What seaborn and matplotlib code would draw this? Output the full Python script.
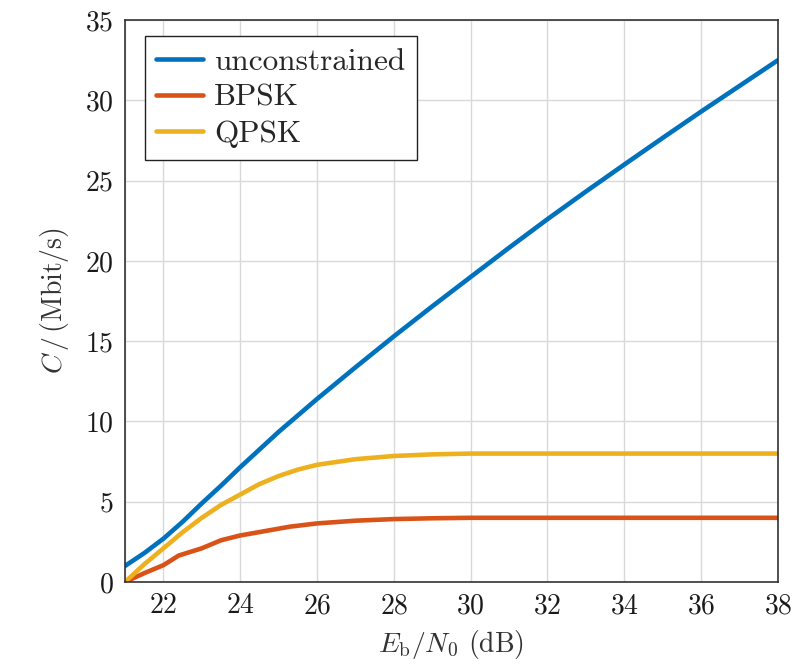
import matplotlib
matplotlib.use("Agg")
import matplotlib.pyplot as plt
import seaborn as sns
import pandas as pd

# Capacity versus Eb/N0 for an unconstrained input and two modulations
ebn0_unc = [21, 21.5, 22, 22.5, 23, 23.5, 24, 25, 26, 27, 28, 29, 30, 31, 32, 33, 34, 35, 36, 37, 38]
cap_unc = [1.0, 1.8, 2.7, 3.75, 4.9, 6.0, 7.15, 9.35, 11.4, 13.37, 15.3, 17.17, 19.0, 20.82, 22.6, 24.32, 26.0, 27.66, 29.3, 30.9, 32.5]

ebn0_bpsk = [21, 21.5, 22, 22.4, 23, 23.5, 24, 25.3, 26, 27, 28, 29, 30, 32, 34, 36, 38]
cap_bpsk = [0.0, 0.55, 1.05, 1.65, 2.1, 2.6, 2.9, 3.45, 3.65, 3.82, 3.92, 3.97, 4.0, 4.0, 4.0, 4.0, 4.0]

ebn0_qpsk = [21, 21.5, 22, 22.5, 23, 23.5, 24, 24.5, 25, 25.5, 26, 27, 28, 29, 30, 32, 34, 36, 38]
cap_qpsk = [0.0, 1.1, 2.1, 3.1, 4.0, 4.8, 5.45, 6.1, 6.6, 7.0, 7.3, 7.65, 7.85, 7.95, 8.0, 8.0, 8.0, 8.0, 8.0]

series_names = ["unconstrained", "BPSK", "QPSK"]
series_colors = ["#0072BD", "#D95319", "#EDB120"]

x_ticks = [22, 24, 26, 28, 30, 32, 34, 36, 38]
y_ticks = [0, 5, 10, 15, 20, 25, 30, 35]

frames = []
for name, xs, ys in zip(series_names,
                        [ebn0_unc, ebn0_bpsk, ebn0_qpsk],
                        [cap_unc, cap_bpsk, cap_qpsk]):
    frames.append(pd.DataFrame({"ebn0": xs, "cap": ys, "series": name}))
df = pd.concat(frames, ignore_index=True)

sns.set_theme(style="whitegrid")
plt.rcParams.update({
    "font.family": ["cmr10", "DejaVu Serif"],
    "mathtext.fontset": "cm",
    "axes.formatter.use_mathtext": True,
    "axes.unicode_minus": False,
    "grid.color": "#d9d9d9",
    "grid.linewidth": 1.0,
})

fig = plt.figure(figsize=(7.94, 6.68), dpi=100)
ax = fig.add_axes([0.1574, 0.1287, 0.8224, 0.8413])

sns.lineplot(data=df, x="ebn0", y="cap", hue="series", hue_order=series_names,
             palette=series_colors, linewidth=3.3, ax=ax, sort=False,
             estimator=None)

ax.set_xlim(21, 38)
ax.set_ylim(0, 35)
ax.set_xticks(x_ticks)
ax.set_yticks(y_ticks)
ax.set_xticks([21], minor=True)
ax.grid(True, which="both", color="#d9d9d9", linewidth=1.0)
ax.set_axisbelow(True)
ax.tick_params(axis="both", which="both", labelsize=20, length=0, pad=8, colors="#1a1a1a")

for sp in ax.spines.values():
    sp.set_visible(True)
    sp.set_color("#333333")
    sp.set_linewidth(1.2)

ax.set_xlabel(r"$E_\mathrm{b}/N_0$ (dB)", fontsize=20, labelpad=6, color="#333333")
ax.set_ylabel(r"$C\,/\,$(Mbit/s)", fontsize=20, labelpad=10, color="#333333")

leg = ax.legend(loc="upper left", bbox_to_anchor=(0.03, 0.972), fontsize=22.5,
                frameon=True, fancybox=False, framealpha=1, edgecolor="#222222",
                handlelength=1.5, handletextpad=0.35, borderpad=0.38,
                labelspacing=0.27, borderaxespad=0)
leg.get_frame().set_linewidth(1.0)
for line in leg.get_lines():
    line.set_linewidth(3.3)

fig.savefig("out.png", dpi=100)
